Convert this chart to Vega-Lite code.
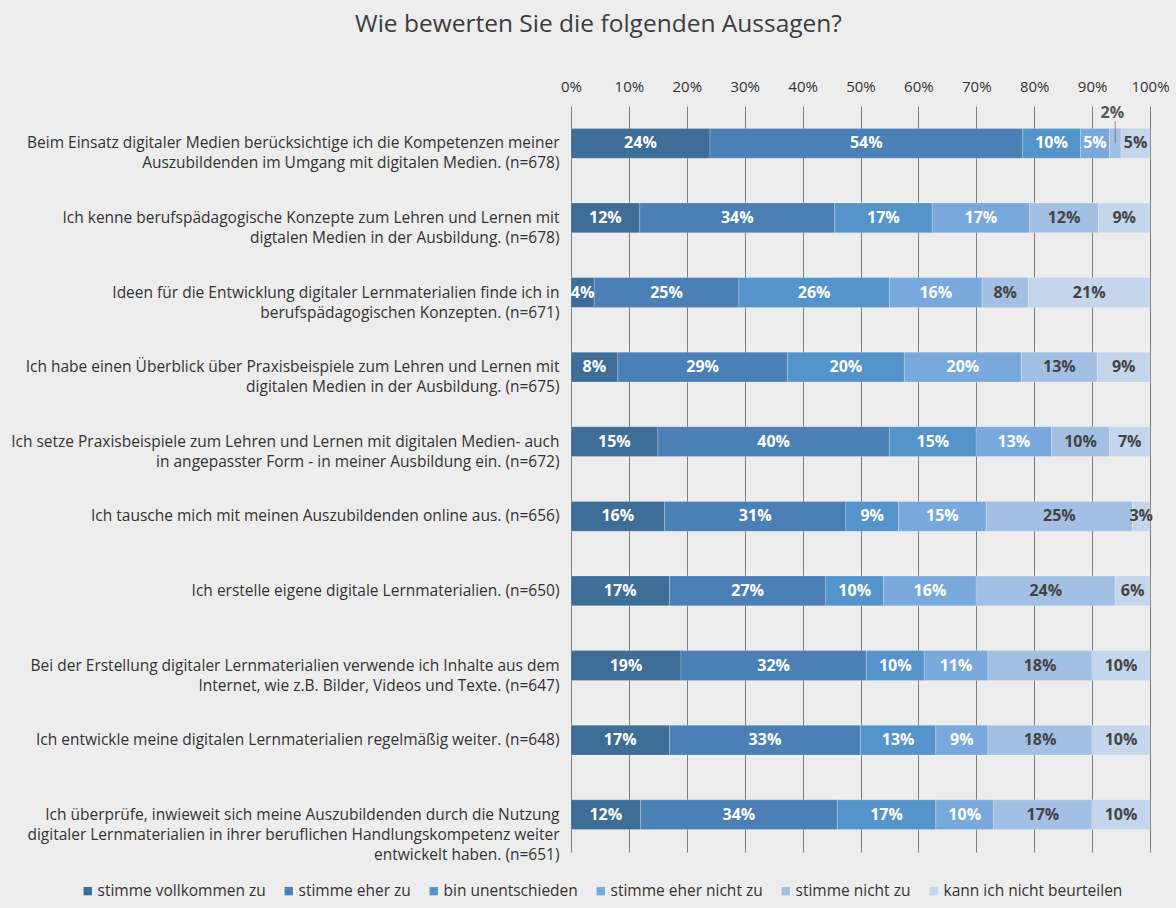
{
  "$schema": "https://vega.github.io/schema/vega-lite/v6.json",
  "width": 579,
  "height": 746,
  "autosize": {"type": "none"},
  "padding": {"left": 571, "top": 106, "right": 26, "bottom": 56},
  "background": "#ededed",
  "title": {
    "text": "Wie bewerten Sie die folgenden Aussagen?",
    "fontSize": 24.5,
    "fontWeight": "normal",
    "color": "#3c3c3c",
    "anchor": "middle",
    "dx": -262,
    "offset": 42
  },
  "datasets": {
    "questions": [
      {"q": 1, "question": "Beim Einsatz digitaler Medien berücksichtige ich die Kompetenzen meiner\nAuszubildenden im Umgang mit digitalen Medien. (n=678)"},
      {"q": 2, "question": "Ich kenne berufspädagogische Konzepte zum Lehren und Lernen mit\ndigtalen Medien in der Ausbildung. (n=678)"},
      {"q": 3, "question": "Ideen für die Entwicklung digitaler Lernmaterialien finde ich in\nberufspädagogischen Konzepten. (n=671)"},
      {"q": 4, "question": "Ich habe einen Überblick über Praxisbeispiele zum Lehren und Lernen mit\ndigitalen Medien in der Ausbildung. (n=675)"},
      {"q": 5, "question": "Ich setze Praxisbeispiele zum Lehren und Lernen mit digitalen Medien- auch\nin angepasster Form - in meiner Ausbildung ein. (n=672)"},
      {"q": 6, "question": "Ich tausche mich mit meinen Auszubildenden online aus. (n=656)"},
      {"q": 7, "question": "Ich erstelle eigene digitale Lernmaterialien. (n=650)"},
      {"q": 8, "question": "Bei der Erstellung digitaler Lernmaterialien verwende ich Inhalte aus dem\nInternet, wie z.B. Bilder, Videos und Texte. (n=647)"},
      {"q": 9, "question": "Ich entwickle meine digitalen Lernmaterialien regelmäßig weiter. (n=648)"},
      {"q": 10, "question": "Ich überprüfe, inwieweit sich meine Auszubildenden durch die Nutzung\ndigitaler Lernmaterialien in ihrer beruflichen Handlungskompetenz weiter\nentwickelt haben. (n=651)"}
    ],
    "cats": [
      {"c": 1, "cat": "stimme vollkommen zu"},
      {"c": 2, "cat": "stimme eher zu"},
      {"c": 3, "cat": "bin unentschieden"},
      {"c": 4, "cat": "stimme eher nicht zu"},
      {"c": 5, "cat": "stimme nicht zu"},
      {"c": 6, "cat": "kann ich nicht beurteilen"}
    ],
    "answers": [
      {"q": 1, "c": 1, "pct": 24}, {"q": 1, "c": 2, "pct": 54}, {"q": 1, "c": 3, "pct": 10}, {"q": 1, "c": 4, "pct": 5}, {"q": 1, "c": 5, "pct": 2}, {"q": 1, "c": 6, "pct": 5},
      {"q": 2, "c": 1, "pct": 12}, {"q": 2, "c": 2, "pct": 34}, {"q": 2, "c": 3, "pct": 17}, {"q": 2, "c": 4, "pct": 17}, {"q": 2, "c": 5, "pct": 12}, {"q": 2, "c": 6, "pct": 9},
      {"q": 3, "c": 1, "pct": 4}, {"q": 3, "c": 2, "pct": 25}, {"q": 3, "c": 3, "pct": 26}, {"q": 3, "c": 4, "pct": 16}, {"q": 3, "c": 5, "pct": 8}, {"q": 3, "c": 6, "pct": 21},
      {"q": 4, "c": 1, "pct": 8}, {"q": 4, "c": 2, "pct": 29}, {"q": 4, "c": 3, "pct": 20}, {"q": 4, "c": 4, "pct": 20}, {"q": 4, "c": 5, "pct": 13}, {"q": 4, "c": 6, "pct": 9},
      {"q": 5, "c": 1, "pct": 15}, {"q": 5, "c": 2, "pct": 40}, {"q": 5, "c": 3, "pct": 15}, {"q": 5, "c": 4, "pct": 13}, {"q": 5, "c": 5, "pct": 10}, {"q": 5, "c": 6, "pct": 7},
      {"q": 6, "c": 1, "pct": 16}, {"q": 6, "c": 2, "pct": 31}, {"q": 6, "c": 3, "pct": 9}, {"q": 6, "c": 4, "pct": 15}, {"q": 6, "c": 5, "pct": 25}, {"q": 6, "c": 6, "pct": 3},
      {"q": 7, "c": 1, "pct": 17}, {"q": 7, "c": 2, "pct": 27}, {"q": 7, "c": 3, "pct": 10}, {"q": 7, "c": 4, "pct": 16}, {"q": 7, "c": 5, "pct": 24}, {"q": 7, "c": 6, "pct": 6},
      {"q": 8, "c": 1, "pct": 19}, {"q": 8, "c": 2, "pct": 32}, {"q": 8, "c": 3, "pct": 10}, {"q": 8, "c": 4, "pct": 11}, {"q": 8, "c": 5, "pct": 18}, {"q": 8, "c": 6, "pct": 10},
      {"q": 9, "c": 1, "pct": 17}, {"q": 9, "c": 2, "pct": 33}, {"q": 9, "c": 3, "pct": 13}, {"q": 9, "c": 4, "pct": 9}, {"q": 9, "c": 5, "pct": 18}, {"q": 9, "c": 6, "pct": 10},
      {"q": 10, "c": 1, "pct": 12}, {"q": 10, "c": 2, "pct": 34}, {"q": 10, "c": 3, "pct": 17}, {"q": 10, "c": 4, "pct": 10}, {"q": 10, "c": 5, "pct": 17}, {"q": 10, "c": 6, "pct": 10}
    ]
  },
  "data": {"name": "answers"},
  "transform": [
    {"lookup": "q", "from": {"data": {"name": "questions"}, "key": "q", "fields": ["question"]}},
    {"lookup": "c", "from": {"data": {"name": "cats"}, "key": "c", "fields": ["cat"]}},
    {"stack": "pct", "groupby": ["q"], "sort": [{"field": "c", "order": "ascending"}], "as": ["x0", "x1"], "offset": "normalize"},
    {"calculate": "(datum.x0 + datum.x1) / 2", "as": "xm"},
    {"calculate": "datum.pct + '%'", "as": "lbl"}
  ],
  "encoding": {
    "y": {
      "field": "question",
      "type": "nominal",
      "sort": {"field": "q", "op": "min", "order": "ascending"},
      "scale": {"paddingInner": 0.6, "paddingOuter": 0.3},
      "axis": {
        "title": null,
        "domain": false,
        "ticks": false,
        "labelPadding": 12,
        "labelLimit": 0,
        "labelFontSize": 15.5,
        "labelColor": "#333333",
        "labelLineHeight": 20,
        "labelExpr": "split(datum.label, '\\n')"
      }
    }
  },
  "layer": [
    {
      "mark": {"type": "bar", "stroke": "#ffffff", "strokeWidth": 0.6, "strokeOpacity": 0.35},
      "encoding": {
        "x": {
          "field": "x0",
          "type": "quantitative",
          "scale": {"domain": [0, 1], "nice": false},
          "axis": {
            "orient": "top",
            "title": null,
            "format": "%",
            "values": [0, 0.1, 0.2, 0.3, 0.4, 0.5, 0.6, 0.7, 0.8, 0.9, 1],
            "grid": true,
            "gridColor": "#7f7f7f",
            "gridWidth": 1,
            "domain": false,
            "ticks": false,
            "labelPadding": 12,
            "labelFontSize": 15,
            "labelColor": "#333333",
            "labelFlush": false
          }
        },
        "x2": {"field": "x1"},
        "color": {
          "field": "cat",
          "type": "nominal",
          "scale": {
            "domain": ["stimme vollkommen zu", "stimme eher zu", "bin unentschieden", "stimme eher nicht zu", "stimme nicht zu", "kann ich nicht beurteilen"],
            "range": ["#3e6d98", "#4a80b6", "#5594cb", "#79a9dc", "#a3c0e4", "#c4d5ec"]
          },
          "legend": {
            "orient": "none",
            "legendX": -491,
            "legendY": 777,
            "direction": "horizontal",
            "columns": 6,
            "title": null,
            "symbolType": "square",
            "symbolSize": 70,
            "symbolStrokeWidth": 0,
            "labelFontSize": 15.5,
            "labelColor": "#333333",
            "labelOffset": 2,
            "columnPadding": 15,
            "labelLimit": 0
          }
        }
      }
    },
    {
      "transform": [{"filter": "datum.pct >= 3"}],
      "mark": {"type": "text", "fontSize": 16, "fontWeight": "bold", "baseline": "middle", "align": "center"},
      "encoding": {
        "x": {"field": "xm", "type": "quantitative"},
        "text": {"field": "lbl", "type": "nominal"},
        "color": {"condition": {"test": "datum.c <= 4", "value": "#ffffff"}, "value": "#444444"}
      }
    },
    {
      "transform": [{"filter": "datum.pct < 3"}],
      "mark": {"type": "text", "fontSize": 16, "fontWeight": "bold", "baseline": "middle", "align": "center", "dy": -30, "dx": -3, "color": "#555555"},
      "encoding": {
        "x": {"field": "xm", "type": "quantitative"},
        "text": {"field": "lbl", "type": "nominal"}
      }
    },
    {
      "transform": [{"filter": "datum.pct < 3"}],
      "mark": {"type": "tick", "orient": "vertical", "size": 22, "thickness": 1, "yOffset": -11, "color": "#666666"},
      "encoding": {
        "x": {"field": "xm", "type": "quantitative"}
      }
    }
  ],
  "config": {
    "font": "Open Sans",
    "view": {"stroke": null}
  }
}
